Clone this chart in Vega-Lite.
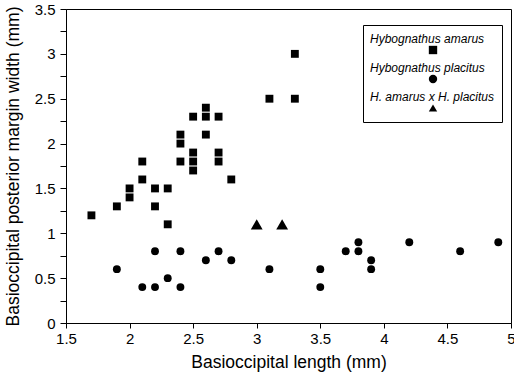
{
  "$schema": "https://vega.github.io/schema/vega-lite/v6.json",
  "width": 445,
  "height": 314,
  "autosize": "none",
  "padding": {"left": 66, "top": 9, "right": 3, "bottom": 58},
  "background": "white",
  "config": {
    "font": "Liberation Sans",
    "view": {"stroke": "black", "strokeWidth": 1},
    "axis": {"domainColor": "black", "tickColor": "black", "labelColor": "black", "titleColor": "black", "grid": false, "labelFont": "Liberation Sans", "titleFont": "Liberation Sans", "titleFontWeight": "normal"},
    "style": {"guide-label": {"lineHeight": 20}}
  },
  "data": {
    "values": [
      {"species": "Hybognathus amarus", "length": 1.7, "width": 1.2},
      {"species": "Hybognathus amarus", "length": 1.9, "width": 1.3},
      {"species": "Hybognathus amarus", "length": 2.0, "width": 1.5},
      {"species": "Hybognathus amarus", "length": 2.0, "width": 1.4},
      {"species": "Hybognathus amarus", "length": 2.1, "width": 1.8},
      {"species": "Hybognathus amarus", "length": 2.1, "width": 1.6},
      {"species": "Hybognathus amarus", "length": 2.2, "width": 1.5},
      {"species": "Hybognathus amarus", "length": 2.2, "width": 1.3},
      {"species": "Hybognathus amarus", "length": 2.3, "width": 1.5},
      {"species": "Hybognathus amarus", "length": 2.3, "width": 1.1},
      {"species": "Hybognathus amarus", "length": 2.4, "width": 2.1},
      {"species": "Hybognathus amarus", "length": 2.4, "width": 2.0},
      {"species": "Hybognathus amarus", "length": 2.4, "width": 1.8},
      {"species": "Hybognathus amarus", "length": 2.5, "width": 2.3},
      {"species": "Hybognathus amarus", "length": 2.5, "width": 1.9},
      {"species": "Hybognathus amarus", "length": 2.5, "width": 1.8},
      {"species": "Hybognathus amarus", "length": 2.5, "width": 1.7},
      {"species": "Hybognathus amarus", "length": 2.6, "width": 2.4},
      {"species": "Hybognathus amarus", "length": 2.6, "width": 2.3},
      {"species": "Hybognathus amarus", "length": 2.6, "width": 2.1},
      {"species": "Hybognathus amarus", "length": 2.7, "width": 2.3},
      {"species": "Hybognathus amarus", "length": 2.7, "width": 1.9},
      {"species": "Hybognathus amarus", "length": 2.7, "width": 1.8},
      {"species": "Hybognathus amarus", "length": 2.8, "width": 1.6},
      {"species": "Hybognathus amarus", "length": 3.1, "width": 2.5},
      {"species": "Hybognathus amarus", "length": 3.3, "width": 3.0},
      {"species": "Hybognathus amarus", "length": 3.3, "width": 2.5},
      {"species": "Hybognathus placitus", "length": 1.9, "width": 0.6},
      {"species": "Hybognathus placitus", "length": 2.1, "width": 0.4},
      {"species": "Hybognathus placitus", "length": 2.2, "width": 0.8},
      {"species": "Hybognathus placitus", "length": 2.2, "width": 0.4},
      {"species": "Hybognathus placitus", "length": 2.3, "width": 0.5},
      {"species": "Hybognathus placitus", "length": 2.4, "width": 0.8},
      {"species": "Hybognathus placitus", "length": 2.4, "width": 0.4},
      {"species": "Hybognathus placitus", "length": 2.6, "width": 0.7},
      {"species": "Hybognathus placitus", "length": 2.7, "width": 0.8},
      {"species": "Hybognathus placitus", "length": 2.8, "width": 0.7},
      {"species": "Hybognathus placitus", "length": 3.1, "width": 0.6},
      {"species": "Hybognathus placitus", "length": 3.5, "width": 0.6},
      {"species": "Hybognathus placitus", "length": 3.5, "width": 0.4},
      {"species": "Hybognathus placitus", "length": 3.7, "width": 0.8},
      {"species": "Hybognathus placitus", "length": 3.8, "width": 0.9},
      {"species": "Hybognathus placitus", "length": 3.8, "width": 0.8},
      {"species": "Hybognathus placitus", "length": 3.9, "width": 0.7},
      {"species": "Hybognathus placitus", "length": 3.9, "width": 0.6},
      {"species": "Hybognathus placitus", "length": 4.2, "width": 0.9},
      {"species": "Hybognathus placitus", "length": 4.6, "width": 0.8},
      {"species": "Hybognathus placitus", "length": 4.9, "width": 0.9},
      {"species": "H. amarus x H. placitus", "length": 3.0, "width": 1.1},
      {"species": "H. amarus x H. placitus", "length": 3.2, "width": 1.1}
    ]
  },
  "encoding": {
    "x": {
      "field": "length", "type": "quantitative",
      "scale": {"domain": [1.5, 5], "nice": false, "zero": false},
      "axis": {
        "title": "Basioccipital length (mm)",
        "values": [1.5, 2, 2.5, 3, 3.5, 4, 4.5, 5],
        "labelExpr": "format(datum.value, '')",
        "labelFontSize": 15, "titleFontSize": 17.5,
        "tickSize": 5, "labelPadding": 3, "titlePadding": 7,
        "labelFlush": false, "labelOverlap": false
      }
    },
    "y": {
      "field": "width", "type": "quantitative",
      "scale": {"domain": [0, 3.5], "nice": false},
      "axis": {
        "title": "Basioccipital posterior margin width (mm)",
        "values": [0, 0.25, 0.5, 0.75, 1, 1.25, 1.5, 1.75, 2, 2.25, 2.5, 2.75, 3, 3.25, 3.5],
        "labelExpr": "datum.value % 0.5 == 0 ? format(datum.value, '') : ''",
        "labelFontSize": 15, "titleFontSize": 17.5,
        "tickSize": 6, "labelPadding": 5, "titlePadding": 12,
        "labelOverlap": false
      }
    },
    "shape": {
      "field": "species", "type": "nominal",
      "scale": {
        "domain": ["Hybognathus amarus", "Hybognathus placitus", "H. amarus x H. placitus"],
        "range": ["square", "circle", "triangle-up"]
      },
      "legend": {
        "title": " ",
        "titleFontSize": 7,
        "titlePadding": 5,
        "orient": "none",
        "legendX": 297,
        "legendY": 16,
        "strokeColor": "black",
        "fillColor": "white",
        "padding": 7,
        "symbolSize": 70,
        "symbolType": "square",
        "symbolOffset": 57,
        "symbolFillColor": "black",
        "symbolStrokeColor": "black",
        "labelFontSize": 12,
        "labelFontStyle": "italic",
        "labelColor": "black",
        "labelAlign": "left",
        "labelBaseline": "line-bottom",
        "labelOffset": -69,
        "rowPadding": 4,
        "labelLimit": 200
      }
    },
    "color": {"value": "black"}
  },
  "layer": [
    {
      "transform": [{"filter": "datum.species != 'H. amarus x H. placitus'"}],
      "mark": {"type": "point", "filled": true, "opacity": 1, "size": 62}
    },
    {
      "transform": [{"filter": "datum.species == 'H. amarus x H. placitus'"}],
      "mark": {"type": "point", "filled": true, "opacity": 1, "size": 140}
    }
  ]
}
